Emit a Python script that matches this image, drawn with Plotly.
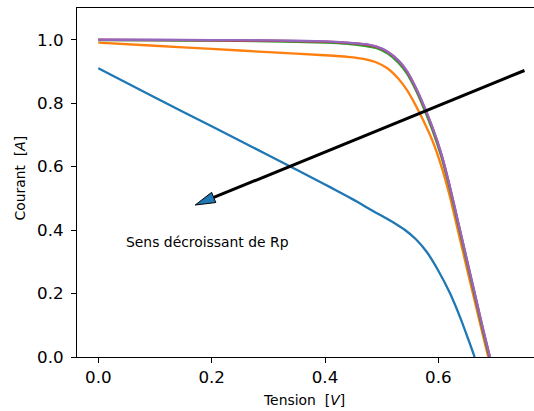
import plotly.graph_objects as go

# ---- data ----
v_blue = [0.0, 0.1, 0.2, 0.3, 0.4, 0.42, 0.44, 0.46, 0.48, 0.50, 0.52, 0.54, 0.56, 0.58, 0.60, 0.62, 0.64, 0.655, 0.664]
i_blue = [0.910, 0.818, 0.727, 0.636, 0.544, 0.525, 0.506, 0.486, 0.465, 0.445, 0.425, 0.402, 0.372, 0.330, 0.272, 0.203, 0.118, 0.045, 0.0]

v_orange = [0.0, 0.1, 0.2, 0.3, 0.4, 0.44, 0.47, 0.49, 0.51, 0.53, 0.545, 0.56, 0.575, 0.59, 0.605, 0.62, 0.635, 0.65, 0.665, 0.68, 0.688]
i_orange = [0.991, 0.981, 0.971, 0.961, 0.951, 0.946, 0.939, 0.929, 0.910, 0.876, 0.840, 0.793, 0.740, 0.680, 0.603, 0.508, 0.395, 0.282, 0.170, 0.058, 0.0]

v_green = [0.0, 0.1, 0.2, 0.3, 0.4, 0.44, 0.47, 0.49, 0.51, 0.53, 0.545, 0.56, 0.575, 0.59, 0.605, 0.62, 0.635, 0.65, 0.665, 0.68, 0.690]
i_green = [0.999, 0.998, 0.997, 0.995, 0.991, 0.987, 0.981, 0.974, 0.957, 0.927, 0.892, 0.842, 0.781, 0.713, 0.633, 0.531, 0.416, 0.301, 0.186, 0.071, 0.0]

v_red = [0.0, 0.1, 0.2, 0.3, 0.4, 0.44, 0.47, 0.49, 0.51, 0.53, 0.545, 0.56, 0.575, 0.59, 0.605, 0.62, 0.635, 0.65, 0.665, 0.68, 0.691]
i_red = [1.000, 0.999, 0.998, 0.997, 0.994, 0.990, 0.985, 0.978, 0.962, 0.933, 0.899, 0.849, 0.789, 0.721, 0.641, 0.539, 0.424, 0.309, 0.194, 0.079, 0.0]

v_purple = [0.0, 0.1, 0.2, 0.3, 0.4, 0.44, 0.47, 0.49, 0.51, 0.53, 0.545, 0.56, 0.575, 0.59, 0.605, 0.62, 0.635, 0.65, 0.665, 0.68, 0.691]
i_purple = [1.000, 1.000, 0.999, 0.998, 0.995, 0.991, 0.986, 0.979, 0.963, 0.934, 0.900, 0.850, 0.790, 0.722, 0.642, 0.540, 0.425, 0.310, 0.195, 0.080, 0.0]

series = [
    (v_blue, i_blue, "#1f77b4"),
    (v_orange, i_orange, "#ff7f0e"),
    (v_green, i_green, "#2ca02c"),
    (v_red, i_red, "#d62728"),
    (v_purple, i_purple, "#9467bd"),
]

x_ticks = [0.0, 0.2, 0.4, 0.6]
y_ticks = [0.0, 0.2, 0.4, 0.6, 0.8, 1.0]

arrow_tail = (0.752, 0.903)
arrow_tip = (0.171, 0.479)
note_pos = (0.045, 0.362)
note_text = "Sens décroissant de Rp"

# ---- layout geometry ----
W, H = 534, 411
ml, mr, mt, mb = 77, 0, 8, 54
xr = [-0.0376, 0.7688]
yr = [0.0, 1.1]
pw, ph = W - ml - mr, H - mt - mb

def to_px(x, y):
    return ((x - xr[0]) / (xr[1] - xr[0]) * pw, (y - yr[0]) / (yr[1] - yr[0]) * ph)

def to_data(px, py):
    return (xr[0] + px / pw * (xr[1] - xr[0]), yr[0] + py / ph * (yr[1] - yr[0]))

fig = go.Figure()
for v, i, c in series:
    fig.add_trace(go.Scatter(x=v, y=i, mode="lines", line=dict(color=c, width=2.3, shape="spline", smoothing=0.6),
                             showlegend=False, hoverinfo="skip"))

# arrow (line + filled head)
tx, ty = to_px(*arrow_tail)
hx, hy = to_px(*arrow_tip)
dx, dy = tx - hx, ty - hy
L = (dx * dx + dy * dy) ** 0.5
ux, uy = dx / L, dy / L
head_len, half_w = 20.0, 5.5
bx, by = hx + ux * head_len, hy + uy * head_len
c1 = to_data(bx - uy * half_w, by + ux * half_w)
c2 = to_data(bx + uy * half_w, by - ux * half_w)
base = to_data(bx, by)

fig.add_shape(type="line", xref="x", yref="y", x0=arrow_tail[0], y0=arrow_tail[1], x1=base[0], y1=base[1],
              line=dict(color="black", width=3), layer="above")
path = f"M {arrow_tip[0]} {arrow_tip[1]} L {c1[0]} {c1[1]} L {c2[0]} {c2[1]} Z"
fig.add_shape(type="path", xref="x", yref="y", path=path, fillcolor="#1f77b4",
              line=dict(color="black", width=1), layer="above")

font_family = "DejaVu Sans"
fig.add_annotation(x=note_pos[0], y=note_pos[1], xref="x", yref="y", text=note_text, showarrow=False,
                   xanchor="left", yanchor="middle", font=dict(family=font_family, size=13.9, color="black"))

# axis titles
fig.add_annotation(x=(304 - ml) / pw, y=-(399.5 - (H - mb)) / ph, xref="paper", yref="paper",
                   text="Tension\u00a0\u00a0[<i>V</i>]", showarrow=False, xanchor="center", yanchor="middle",
                   font=dict(family=font_family, size=13.9, color="black"))
fig.add_annotation(x=(19 - ml) / pw, y=((H - mb) - 178.5) / ph, xref="paper", yref="paper",
                   text="Courant\u00a0\u00a0[<i>A</i>]", showarrow=False, textangle=-90, xanchor="center", yanchor="middle",
                   font=dict(family=font_family, size=13.9, color="black"))

axis_common = dict(showgrid=False, zeroline=False, showline=True, linecolor="black", linewidth=1.1,
                   ticks="outside", ticklen=5, tickwidth=1.1, tickcolor="black",
                   tickfont=dict(family=font_family, size=16.7, color="black"))
fig.update_xaxes(range=xr, tickvals=x_ticks, ticktext=[f"{t:.1f}" for t in x_ticks], mirror=True, **axis_common)
fig.update_yaxes(range=yr, tickvals=y_ticks, ticktext=[f"{t:.1f}" for t in y_ticks], mirror=False,
                 ticklabelstandoff=4, **axis_common)

fig.update_layout(width=W, height=H, margin=dict(l=ml, r=mr, t=mt, b=mb, pad=0),
                  plot_bgcolor="white", paper_bgcolor="white", showlegend=False)

fig.write_html("out.html")
